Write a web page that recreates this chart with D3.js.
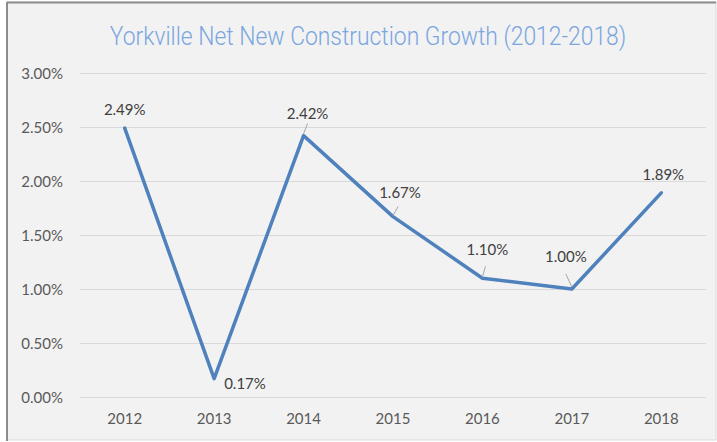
<!DOCTYPE html>
<html><head><meta charset="utf-8">
<script src="https://cdn.jsdelivr.net/npm/d3@7"></script>
<style>html,body{margin:0;padding:0;background:#fff;}svg{display:block;}</style>
</head><body>
<svg id="c" width="717" height="442"></svg>
<script>
const title = "Yorkville Net New Construction Growth (2012-2018)";
const years = ["2012","2013","2014","2015","2016","2017","2018"];
const growth = [2.49, 0.17, 2.42, 1.67, 1.10, 1.00, 1.89];
const yTicks = [0, 0.5, 1.0, 1.5, 2.0, 2.5, 3.0];

const svg = d3.select("#c");
const font = "Lato, 'Open Sans', sans-serif";
const fs = 15;

// chart frame
svg.append("rect").attr("x",7).attr("y",2).attr("width",709).attr("height",438)
  .attr("fill","#f2f2f2").attr("stroke","#d9d9d9").attr("stroke-width",1);
svg.append("line").attr("x1",7).attr("x2",7).attr("y1",2).attr("y2",441).attr("stroke","#8c8c8c").attr("stroke-width",2);
svg.append("line").attr("x1",7).attr("x2",716).attr("y1",2.5).attr("y2",2.5).attr("stroke","#8c8c8c").attr("stroke-width",2);

const x = d3.scaleBand().domain(years).range([80,706]);
const y = d3.scaleLinear().domain([0,3]).range([397,73]);

// gridlines
svg.append("g").selectAll("line").data(yTicks).join("line")
  .attr("x1",80).attr("x2",706).attr("y1",d=>Math.round(y(d))+0.5).attr("y2",d=>Math.round(y(d))+0.5)
  .attr("stroke","#d9d9d9").attr("stroke-width",1);

// y axis labels
const yAxis = d3.axisLeft(y).tickValues(yTicks).tickSize(0).tickPadding(0)
  .tickFormat(d=>d.toFixed(2)+"%");
const gy = svg.append("g").attr("transform","translate(63,0)").call(yAxis);
gy.select(".domain").remove();
gy.selectAll("text").attr("font-family",font).attr("font-size",fs).attr("fill","#595959").attr("dy","0.35em");

// x axis labels
const xAxis = d3.axisBottom(x).tickSize(0).tickPadding(0);
const gx = svg.append("g").attr("transform","translate(0,419)").call(xAxis);
gx.select(".domain").remove();
gx.selectAll("text").attr("font-family",font).attr("font-size",fs).attr("fill","#595959").attr("dy","0.35em");

// line
const cx = d => x(d) + x.bandwidth()/2;
const pts = years.map((yr,i)=>[cx(yr), y(growth[i])]);
svg.append("path").datum(pts).attr("d", d3.line())
  .attr("fill","none").attr("stroke","#4f81bd").attr("stroke-width",3.5)
  .attr("stroke-linejoin","round").attr("stroke-linecap","round");

// data labels: offsets relative to point [dx, dy, anchor, leader?]
const labelPos = [
  [0, -18, "middle", null],
  [10, 5, "start", null],
  [4, -22, "middle", [[4,-12],[0,-2]]],
  [7, -24, "middle", [[5,-10],[0,-1]]],
  [5, -28, "middle", [[3,-12],[0,-1]]],
  [-6, -32, "middle", [[-6,-15],[0,-2]]],
  [2, -18, "middle", null]
];
const lg = svg.append("g");
years.forEach((yr,i)=>{
  const [px,py] = pts[i];
  const [dx,dy,anc,leader] = labelPos[i];
  if (leader) {
    lg.append("line").attr("x1",px+leader[0][0]).attr("y1",py+leader[0][1])
      .attr("x2",px+leader[1][0]).attr("y2",py+leader[1][1])
      .attr("stroke","#a6a6a6").attr("stroke-width",1);
  }
  lg.append("text").attr("x",px+dx).attr("y",py+dy).attr("dy","0.35em")
    .attr("text-anchor",anc).attr("font-family",font).attr("font-size",fs)
    .attr("fill","#404040").text(growth[i].toFixed(2)+"%");
});

// title
svg.append("text").attr("x",368).attr("y",45).attr("text-anchor","middle")
  .attr("font-family","Roboto, 'Open Sans', sans-serif").attr("font-weight",300)
  .attr("font-size",26).attr("fill","#7aa6e0")
  .attr("transform","translate(368,0) scale(0.88,1) translate(-368,0)")
  .text(title);
</script>
</body></html>
